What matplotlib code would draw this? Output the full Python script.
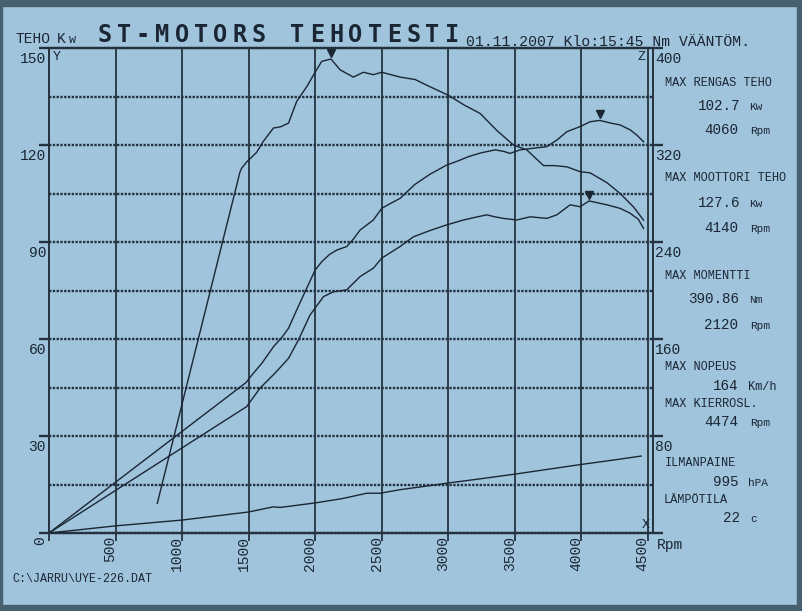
import matplotlib
matplotlib.use('Agg')
import matplotlib.pyplot as plt
import matplotlib.transforms as mtransforms
from matplotlib.patches import Rectangle

# ---------------- data ----------------
rpm_engine = [0, 1480, 1536, 1600, 1687, 1750, 1800, 1862, 1937, 2000,
              2050, 2110, 2163, 2238, 2290, 2338, 2438, 2501, 2570, 2639,
              2750, 2865, 2990, 3070, 3153, 3250, 3354, 3420, 3466, 3541,
              3642, 3742, 3817, 3892, 3992, 4068, 4140, 4220, 4293, 4368,
              4420, 4469]
kw_engine = [0, 46.5, 49.4, 52.5, 57.6, 60.5, 63.3, 69.0, 75.7, 81.3,
             83.9, 86.2, 87.5, 88.6, 91.0, 93.7, 96.8, 100.4, 102.0, 103.5,
             107.8, 111.0, 113.8, 115.0, 116.4, 117.6, 118.5, 118.0, 117.4, 118.5,
             119.0, 119.5, 121.5, 124.1, 125.7, 127.2, 127.6, 126.8, 126.2, 124.7,
             123.0, 121.0]

rpm_wheel = [0, 1486, 1586, 1700, 1800, 1875, 1962, 2063, 2138, 2238,
             2338, 2438, 2501, 2639, 2739, 2860, 2990, 3115, 3200, 3291,
             3350, 3416, 3516, 3617, 3742, 3817, 3917, 3992, 4060, 4193,
             4293, 4368, 4430, 4469]
kw_wheel = [0, 39.1, 44.8, 49.5, 54.0, 59.7, 67.4, 73.1, 74.6, 75.2,
            79.3, 81.9, 85.0, 88.6, 91.6, 93.5, 95.3, 96.8, 97.6, 98.4,
            97.8, 97.3, 96.8, 97.8, 97.3, 98.4, 101.5, 100.9, 102.7, 101.5,
            100.4, 98.9, 97.0, 94.2]

rpm_torque = [814, 1436, 1449, 1486, 1561, 1611, 1687, 1740, 1800, 1862,
              1937, 2000, 2050, 2120, 2188, 2288, 2363, 2438, 2501, 2639,
              2752, 2865, 3002, 3120, 3241, 3366, 3491, 3591, 3717, 3800,
              3892, 3992, 4068, 4193, 4293, 4393, 4469]
nm_torque = [24.5, 298, 301, 306, 314, 323, 334, 335, 338, 356,
             368, 380, 389, 390.9, 382, 376, 380, 378, 380, 376,
             374, 368, 361, 353, 346, 332, 320, 316, 303, 303,
             302, 298, 297, 289, 280, 269, 258]

rpm_speed = [0, 500, 1000, 1500, 1687, 1737, 2000, 2200, 2389, 2489,
             2639, 2800, 2990, 3250, 3500, 3750, 4000, 4250, 4451]
speed_curve = [0, 2.2, 4.0, 6.5, 8.1, 7.9, 9.3, 10.6, 12.3, 12.3,
               13.4, 14.3, 15.4, 16.8, 18.2, 19.7, 21.2, 22.6, 23.8]

left_ticks = [0, 30, 60, 90, 120, 150]
right_ticks = [0, 80, 160, 240, 320, 400]
x_ticks = [0, 500, 1000, 1500, 2000, 2500, 3000, 3500, 4000, 4500]

# ---------------- style ----------------
W, H = 802, 611
BG = '#9fc4dc'
DARK = '#47606f'
INK = '#1b2634'
GRID = '#24323f'
MONO = ['Liberation Mono', 'DejaVu Sans Mono']

fig = plt.figure(figsize=(W / 100, H / 100), dpi=100, facecolor=BG)

def px(x, y):
    return x / W, 1 - y / H

def T(x, y, s, size=8.6, ha='left', va='center', family=None, **kw):
    fx, fy = px(x, y)
    fig.text(fx, fy, s, fontsize=size, ha=ha, va=va, color=INK,
             family=family or MONO, **kw)

# axes: x 0 px->49, right edge 653; y 0 at 533, 150 at 48
ax = fig.add_axes([49 / W, (H - 533) / H, (653 - 49) / W, (533 - 48) / H])
ax.set_facecolor(BG)
ax.set_xlim(0, 4540)
ax.set_ylim(0, 150)
ax2 = ax.twinx()
ax2.set_ylim(0, 400)

# grid
for r in x_ticks[1:]:
    ax.axvline(r, color=GRID, lw=1.3, zorder=1)
for v in range(15, 150, 15):
    ax.axhline(v, color=GRID, lw=1.7, ls=(0, (1, 0.6)), zorder=1)

for s in ['top', 'bottom']:
    ax.spines[s].set_linestyle((0, (1, 0.6)))
    ax.spines[s].set_linewidth(1.7)
    ax.spines[s].set_color(GRID)
for s in ['left', 'right']:
    ax.spines[s].set_linewidth(1.4)
    ax.spines[s].set_color(GRID)
for s in ax2.spines.values():
    s.set_visible(False)

ax.set_xticks(x_ticks)
ax.set_yticks(left_ticks)
ax.tick_params(axis='x', direction='out', length=6, width=1.3, color=GRID,
               labelbottom=False)
ax.tick_params(axis='y', direction='out', length=7, width=1.7, color=GRID,
               labelleft=False)
ax2.set_yticks(right_ticks)
ax2.tick_params(axis='y', direction='out', length=7, width=1.7, color=GRID,
                labelright=False)

# tick labels
for v in left_ticks[1:]:
    ax.annotate(str(v), xy=(0, v), xycoords=('axes fraction', 'data'),
                xytext=(-3, -4), textcoords='offset pixels', ha='right',
                va='top', fontsize=10.5, family=MONO, color=INK)
ax.annotate('0', xy=(0, 0), xycoords='data', xytext=(-9, -3),
            textcoords='offset pixels', ha='center', va='top', rotation=90,
            fontsize=10.5, family=MONO, color=INK)
for v in right_ticks[1:]:
    ax2.annotate(str(v), xy=(1, v), xycoords=('axes fraction', 'data'),
                 xytext=(2, -4), textcoords='offset pixels', ha='left',
                 va='top', fontsize=10.5, family=MONO, color=INK)
for r in x_ticks[1:]:
    ax.annotate(str(r), xy=(r, 0), xycoords=('data', 'axes fraction'),
                xytext=(-5, -3), textcoords='offset pixels', ha='center',
                va='top', rotation=90, fontsize=10.5, family=MONO, color=INK)

# curves
ax.plot(rpm_speed, speed_curve, color=INK, lw=1.0, zorder=3)
ax.plot(rpm_wheel, kw_wheel, color=INK, lw=1.0, zorder=3)
ax.plot(rpm_engine, kw_engine, color=INK, lw=1.0, zorder=3)
ax2.plot(rpm_torque, nm_torque, color=INK, lw=1.0, zorder=3)

# peak markers
def peak_marker(axis, xs, ys):
    i = max(range(len(ys)), key=lambda k: ys[k])
    tr = mtransforms.offset_copy(axis.transData, fig=fig, x=0, y=6, units='dots')
    axis.plot([xs[i]], [ys[i]], marker='v', ms=6, color=INK, transform=tr,
              zorder=4, clip_on=False)

peak_marker(ax, rpm_engine, kw_engine)
peak_marker(ax, rpm_wheel, kw_wheel)
peak_marker(ax2, rpm_torque, nm_torque)

# axis letters
T(53, 57, 'Y', size=9.5)
T(645, 57, 'Z', size=9.5, ha='right')
T(646, 525, 'X', size=9.5, ha='center')
T(657, 545, 'Rpm', size=10.5)

# header
T(16, 43, 'TEHO', size=10.5, va='baseline')
T(57, 43, 'K', size=10.5, va='baseline')
T(69, 43, 'w', size=8.5, va='baseline')
title = 'ST-MOTORS TEHOTESTI'
for i, ch in enumerate(title):
    T(104.5 + 19.3 * i, 42, ch, size=17, ha='center', va='baseline',
      weight='bold', family=['DejaVu Sans Mono'])
T(466, 46, '01.11.2007 Klo:15:45 Nm VÄÄNTÖM.', size=10.6, va='baseline')

# right panel
panel = [
    (665, 83, 'MAX RENGAS TEHO', 8.6),
    (698, 106, '102.7', 10.3), (749, 107, 'Kw', 8.0),
    (704, 130, '4060', 10.3), (750, 131, 'Rpm', 8.0),
    (665, 178, 'MAX MOOTTORI TEHO', 8.6),
    (698, 203, '127.6', 10.3), (749, 204, 'Kw', 8.0),
    (704, 228, '4140', 10.3), (750, 229, 'Rpm', 8.0),
    (665, 276, 'MAX MOMENTTI', 8.6),
    (688, 299, '390.86', 10.3), (749, 300, 'Nm', 8.0),
    (704, 325, '2120', 10.3), (750, 326, 'Rpm', 8.0),
    (665, 367, 'MAX NOPEUS', 8.6),
    (713, 386, '164', 10.3), (748, 387, 'Km/h', 8.6),
    (665, 404, 'MAX KIERROSL.', 8.6),
    (704, 422, '4474', 10.3), (750, 423, 'Rpm', 8.0),
    (665, 463, 'ILMANPAINE', 8.6),
    (713, 482, '995', 10.3), (748, 483, 'hPA', 8.0),
    (664, 500, 'LÄMPÖTILA', 8.6),
    (723, 518, '22', 10.3), (750, 519, 'c', 8.0),
]
for x, y, s, size in panel:
    T(x, y, s, size=size)

T(12, 579, 'C:\\JARRU\\UYE-226.DAT', size=8.4)

# frame
fig.add_artist(Rectangle(px(0, 6), 1, 6 / H, transform=fig.transFigure,
                         color=DARK, zorder=10))
fig.add_artist(Rectangle(px(0, H), 1, 6 / H, transform=fig.transFigure,
                         color=DARK, zorder=10))
fig.add_artist(Rectangle(px(797, H), 5 / W, 1, transform=fig.transFigure,
                         color=DARK, zorder=10))
fig.add_artist(Rectangle(px(0, H), 2 / W, 1, transform=fig.transFigure,
                         color=DARK, zorder=10))

fig.savefig('out.png', dpi=100, facecolor=BG)
